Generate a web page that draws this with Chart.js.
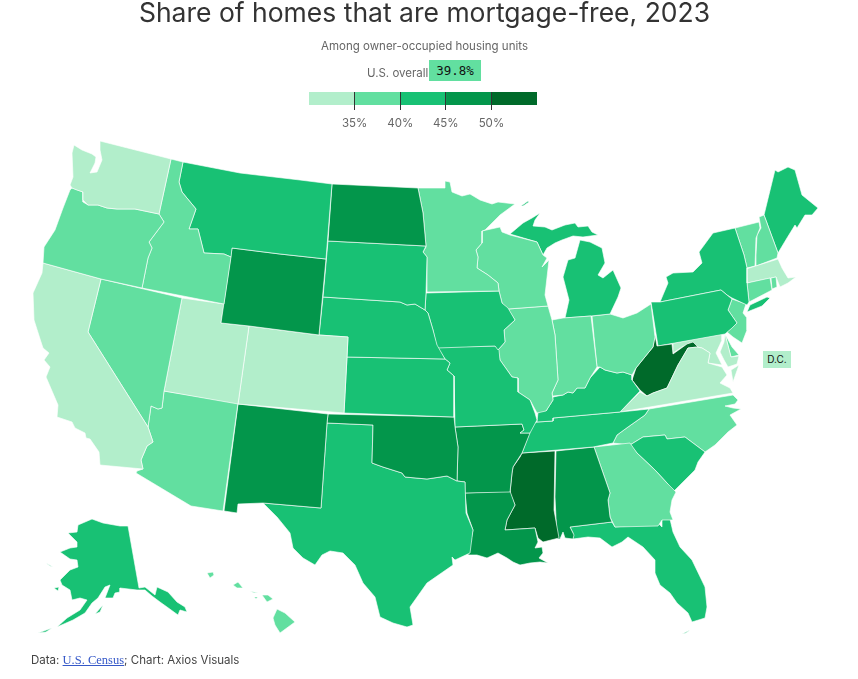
<!DOCTYPE html>
<html>
<head>
<meta charset="utf-8">
<title>Share of homes that are mortgage-free, 2023</title>
<script src="https://cdn.jsdelivr.net/npm/chart.js@4"></script>
<style>
body { margin: 0; background: #fff; font-family: Inter, sans-serif; color: #333; }
#wrap { position: relative; width: 858px; height: 679px; overflow: hidden; }
#wrap div, #wrap canvas { position: absolute; }
#map { left: 0; top: 0; }
#scale { left: 299px; top: 92px; }
#title { left: 0; width: 849px; top: -4px; text-align: center; font-size: 26.5px; line-height: 32px; }
#sub { left: 0; width: 849px; top: 39px; text-align: center; font-size: 11.5px; line-height: 14px; color: #666; }
#overallLabel { left: 367px; top: 66px; font-size: 11.5px; line-height: 14px; color: #666; }
#overall { left: 429px; top: 60px; width: 52px; height: 21px; background: #62dfa0; text-align: center; font: 12.5px/22px "DejaVu Sans Mono", monospace; color: #111; }
#dc { left: 763px; top: 351px; width: 28px; height: 17px; background: #b2eecb; text-align: center; font-size: 10px; line-height: 17px; color: #111; }
#source { left: 31px; top: 653px; font-size: 11.5px; line-height: 14px; color: #444; }
#source a { font-family: "Liberation Serif", serif; font-size: 12.5px; color: #3558c8; }
</style>
</head>
<body>
<div id="wrap">
  <canvas id="map"></canvas>
  <canvas id="scale"></canvas>
  <div id="title">Share of homes that are mortgage-free, 2023</div>
  <div id="sub">Among owner-occupied housing units</div>
  <div id="overallLabel">U.S. overall</div>
  <div id="overall">39.8%</div>
  <div id="dc">D.C.</div>
  <div id="source">Data: <a href="#">U.S. Census</a>; Chart: Axios Visuals</div>
</div>
<script>
// share of owner-occupied homes with no mortgage
const states = ['WA','OR','CA','NV','ID','MT','WY','UT','CO','AZ','NM','ND','SD','NE','KS','OK','TX','MN','IA','MO','AR','LA','WI','IL','IN','MI','OH','KY','TN','MS','AL','GA','FL','SC','NC','VA','WV','PA','NY','MD','DE','NJ','CT','RI','MA','VT','NH','ME','AK','HI'];
const shares = [34,38,33,37,38,44,46,32,33,39,47,47,43,43,42,46,41,39,43,43,46,47,39,38,39,44,39,44,43,51,46,36,41,42,38,34,54,43,42,32,39,37,37,37,34,39,38,44,42,39];

const binEdges = [30,35,40,45,50,55];
const binColors = ['#b2eecb','#62dfa0','#18c174','#03964b','#006a2a'];
const scaleTicks = [35,40,45,50];

// outlines in map units, some states have more than one part
const outlines = {
  WA: [[100,141,171,159,159,214,135,209,117,209,107,208,98,205,88,205,83,200,83,192,77,190,72,188,70,185,73,177,72,153,74,145,82,150,92,154,96,157,95,163,90,173,97,172,102,160,100,150]],
  OR: [[72,188,83,192,83,202,88,205,98,205,107,208,117,209,135,209,159,214,164,222,149,242,152,248,148,258,142,288,101,279,43,263,44,247,55,230,63,208,70,190]],
  CA: [[43,263,101,279,88,332,148,427,153,442,147,446,141,460,143,469,100,465,99,452,90,439,86,438,85,433,75,428,72,422,57,417,58,405,55,398,46,377,50,367,44,360,49,353,43,348,41,342,34,320,33,293,42,273]],
  NV: [[101,279,182,298,164,391,162,408,158,409,151,406,148,427,88,332]],
  ID: [[171,159,183,162,179,182,182,192,196,209,189,229,198,229,204,253,224,254,231,257,224,304,142,288,148,258,152,248,149,242,164,222,159,214]],
  MT: [[183,162,240,173,300,180,332,184,326,259,280,254,232,248,231,257,224,254,204,253,198,229,189,229,196,209,182,192,179,182]],
  WY: [[232,248,280,254,326,259,319,335,249,326,221,323]],
  UT: [[182,298,224,304,221,323,249,326,238,404,164,391]],
  CO: [[249,326,319,335,348,337,347,357,344,413,238,404]],
  AZ: [[164,391,238,403,223,511,191,506,136,473,137,471,143,469,141,460,147,446,153,442,148,427,151,406,158,409,162,408]],
  NM: [[238,404,328,414,327,423,321,508,263,503,238,504,237,513,224,511]],
  ND: [[332,184,418,188,423,213,426,246,328,241]],
  SD: [[328,241,426,246,423,252,427,257,426,293,425,310,415,304,407,305,400,302,323,297]],
  NE: [[323,297,400,302,407,305,415,304,425,310,428,313,433,330,437,345,445,359,347,357,348,337,319,335]],
  KS: [[347,357,445,359,450,363,447,370,454,376,454,417,344,413]],
  OK: [[328,414,454,417,455,427,458,447,457,481,447,476,427,479,405,477,402,473,383,467,372,463,373,425,327,423]],
  TX: [[327,423,373,425,372,463,383,467,402,473,405,477,427,479,447,476,457,481,465,482,466,513,473,530,470,553,455,560,452,557,453,565,427,583,410,607,413,625,407,627,393,623,380,617,375,597,363,583,355,565,343,553,330,551,322,555,315,565,303,558,293,548,290,533,277,517,263,503,321,508]],
  MN: [[418,188,445,188,445,181,450,182,452,192,462,196,470,194,480,200,492,204,498,202,515,204,500,215,485,230,482,231,482,243,476,250,478,257,477,268,488,275,498,283,499,291,427,292,427,257,423,252,426,247,423,213]],
  IA: [[426,293,499,291,502,303,508,308,515,320,504,330,505,342,498,350,495,346,437,348,433,330,428,313,425,310]],
  MO: [[437,347,495,346,499,350,500,360,512,377,518,378,518,392,530,400,535,413,537,420,530,433,520,433,524,430,522,424,455,427,454,376,447,370,450,363,445,359]],
  AR: [[455,427,522,424,524,430,520,433,530,433,522,453,513,467,512,473,510,492,465,493,465,482,457,481,458,447]],
  LA: [[465,493,510,491,515,505,507,520,505,530,535,528,538,542,535,548,542,547,543,553,539,558,548,563,540,562,530,563,520,565,513,562,507,558,498,553,487,558,477,555,468,555,473,530,467,513]],
  WI: [[482,231,500,227,502,232,510,235,537,242,543,255,547,258,542,267,549,260,545,295,548,306,508,309,502,303,499,291,498,283,488,275,477,268,478,257,476,250,482,243]],
  IL: [[508,309,548,306,552,320,555,335,558,380,552,393,553,400,546,411,537,413,530,400,518,392,518,378,512,377,500,360,498,350,505,342,504,330,515,320]],
  IN: [[552,320,563,318,591,316,597,367,590,378,585,388,577,388,573,393,568,392,563,395,553,396,546,411,553,400,552,393,558,380,555,335]],
  MI: [[565,318,569,300,563,277,568,260,575,258,580,240,590,242,602,248,605,263,598,275,603,278,613,270,621,288,618,297,610,314,591,316],
       [510,234,523,223,532,218,540,213,535,220,533,226,545,227,552,230,565,225,575,223,578,227,588,226,592,232,598,235,583,237,573,236,562,240,555,243,547,248,543,255,537,242],
       [521,206,528,201,529,202,523,206]],
  OH: [[592,316,610,314,623,318,637,313,651,304,655,337,653,347,640,363,636,368,632,375,623,372,617,373,605,370,600,367,597,367]],
  KY: [[632,375,632,380,640,391,620,412,553,418,553,421,537,422,538,412,546,410,553,397,563,395,568,392,573,393,577,388,585,388,590,378,600,367,605,370,617,373,623,372]],
  TN: [[649,409,645,415,628,427,617,435,613,443,593,447,522,453,528,437,533,424,537,422,553,421,553,418,620,412]],
  MS: [[522,453,555,451,554,510,559,538,543,542,538,538,535,528,505,530,507,520,515,505,510,493,512,473,513,467,520,457]],
  AL: [[556,451,594,447,610,493,608,500,610,517,612,522,570,527,574,535,573,539,565,538,563,532,560,539,557,539,555,497]],
  GA: [[594,447,630,443,637,453,655,470,667,483,676,492,672,500,670,512,673,520,662,520,658,526,615,527,610,517,608,500,610,493]],
  FL: [[570,527,612,522,615,527,658,523,662,527,662,519,670,519,673,532,680,547,692,560,705,587,707,607,705,618,692,622,688,613,677,603,670,593,660,585,655,573,655,560,643,547,628,537,622,542,612,547,600,538,588,537,573,539,573,533],
       [682,634,690,630,686,633]],
  SC: [[630,445,643,437,665,435,667,439,685,437,705,452,698,462,695,470,682,483,673,492,667,483,655,470,637,453]],
  NC: [[649,409,733,395,738,400,735,404,725,406,733,408,741,409,730,415,737,425,728,432,715,445,705,452,685,437,667,439,665,435,643,437,630,445,613,443,617,435,628,427,645,415]],
  VA: [[620,412,640,392,647,396,653,393,667,388,678,365,688,348,697,347,702,348,710,353,708,363,722,367,727,375,720,383,730,388,733,393],
       [739,365,733,382,731,370]],
  WV: [[655,335,657,346,672,344,673,354,687,344,693,342,698,347,688,348,678,365,667,388,653,393,647,396,640,390,632,380,636,368,640,363,653,347]],
  PA: [[651,302,660,302,721,290,727,295,732,299,728,310,737,323,732,328,725,334,658,346]],
  NY: [[660,302,668,283,666,277,673,273,693,272,702,263,699,252,713,233,735,228,744,255,747,268,747,283,749,302,747,305,732,298,727,295,721,290],
       [747,312,750,305,767,297,770,298,762,306]],
  MD: [[673,343,722,334,722,340,716,353,722,365,708,363,710,353,702,348,697,347,690,343,682,347,673,353],
       [725,334,731,357,739,356,737,364,728,367,724,360,720,352,724,342]],
  DE: [[725,334,732,347,739,355,731,357]],
  NJ: [[732,299,746,304,743,313,747,318,747,330,742,343,733,337,727,332,737,323,728,310]],
  CT: [[747,283,770,278,772,290,749,302]],
  RI: [[771,278,776,277,777,287,772,289]],
  MA: [[746,269,778,259,782,268,788,278,796,277,788,283,780,287,776,277,747,283]],
  VT: [[735,228,759,222,760,228,756,238,755,266,747,268,744,255]],
  NH: [[759,217,764,215,778,253,777,258,756,266,756,255,757,235,761,228]],
  ME: [[764,215,775,170,778,172,788,167,795,170,802,195,818,208,812,215,805,215,797,228,795,225,787,238,778,253]],
  AK: [[128,526,139,588,145,587,155,595,157,587,168,592,177,602,185,607,187,612,180,610,178,615,167,607,160,602,152,596,145,590,137,590,120,588,120,592,115,593,113,598,105,598,110,585,105,587,98,598,92,603,85,613,73,620,57,627,67,618,80,610,87,600,80,598,72,600,70,590,62,585,60,580,70,570,78,567,77,560,70,559,60,552,70,548,77,547,77,542,68,533,77,532,78,525,92,519,103,523,120,526],
       [95,614,103,605,100,612],
       [54,588,59,587,58,591],
       [46,563,53,567,50,566],
       [38,633,52,628,46,632]],
  HI: [[207,573,213,572,214,575,210,578],
       [233,585,238,582,243,588,237,588],
       [250,591,258,593,254,593],
       [254,597,258,597,256,599],
       [262,595,268,595,273,599,267,602],
       [277,609,285,613,295,622,280,633,275,625,273,618]]
};

function binColor(share){
  for(let i = 0; i < binColors.length; i++){
    if(share < binEdges[i + 1]){
      return binColors[i];
    }
  }
  return binColors[binColors.length - 1];
}

function toPoints(flat){
  const pts = [];
  for(let i = 0; i < flat.length; i += 2){
    pts.push({x: flat[i], y: flat[i + 1]});
  }
  pts.push({x: flat[0], y: flat[1]});
  return pts;
}

const mapSets = [];
states.forEach((st, i) => {
  outlines[st].forEach((part) => {
    mapSets.push({
      label: st,
      data: toPoints(part),
      showLine: true,
      fill: 'shape',
      backgroundColor: binColor(shares[i]),
      borderColor: 'rgba(255,255,255,0.7)',
      borderWidth: 0.9,
      pointRadius: 0,
      tension: 0
    });
  });
});

const mapCanvas = document.getElementById('map');
mapCanvas.width = 858;
mapCanvas.height = 679;
mapCanvas.style.width = '858px';
mapCanvas.style.height = '679px';

var mapChart = new Chart(mapCanvas, {
  type: 'scatter',
  data: { datasets: mapSets },
  options: {
    responsive: false,
    animation: false,
    layout: { padding: 0 },
    plugins: { legend: { display: false }, tooltip: { enabled: false } },
    scales: {
      x: { display: false, min: 0, max: 858 },
      y: { display: false, min: 0, max: 679, reverse: true }
    }
  }
});

// colour key: one stacked bar per bin
const scaleCanvas = document.getElementById('scale');
scaleCanvas.width = 249;
scaleCanvas.height = 42;
scaleCanvas.style.width = '249px';
scaleCanvas.style.height = '42px';

var scaleChart = new Chart(scaleCanvas, {
  type: 'bar',
  data: {
    labels: ['key'],
    datasets: binColors.map((c, i) => ({
      data: [[binEdges[i], binEdges[i + 1]]],
      backgroundColor: c,
      barPercentage: 1,
      categoryPercentage: 1,
      grouped: false
    }))
  },
  options: {
    indexAxis: 'y',
    responsive: false,
    animation: false,
    layout: { padding: { left: 10, right: 11 } },
    plugins: { legend: { display: false }, tooltip: { enabled: false } },
    scales: {
      y: { display: false },
      x: {
        min: binEdges[0],
        max: binEdges[binEdges.length - 1],
        afterFit: (axis) => { axis.height = 29; },
        border: { display: false },
        grid: {
          z: 1,
          tickLength: 5,
          color: (ctx) => scaleTicks.includes(ctx.tick.value) ? '#333' : 'transparent',
          tickColor: (ctx) => scaleTicks.includes(ctx.tick.value) ? '#333' : 'transparent'
        },
        ticks: {
          stepSize: 5,
          padding: 7,
          maxRotation: 0,
          color: '#666',
          font: { family: 'Inter', size: 11.5 },
          callback: (v) => scaleTicks.includes(v) ? v + '%' : ''
        }
      }
    }
  }
});
</script>
</body>
</html>
